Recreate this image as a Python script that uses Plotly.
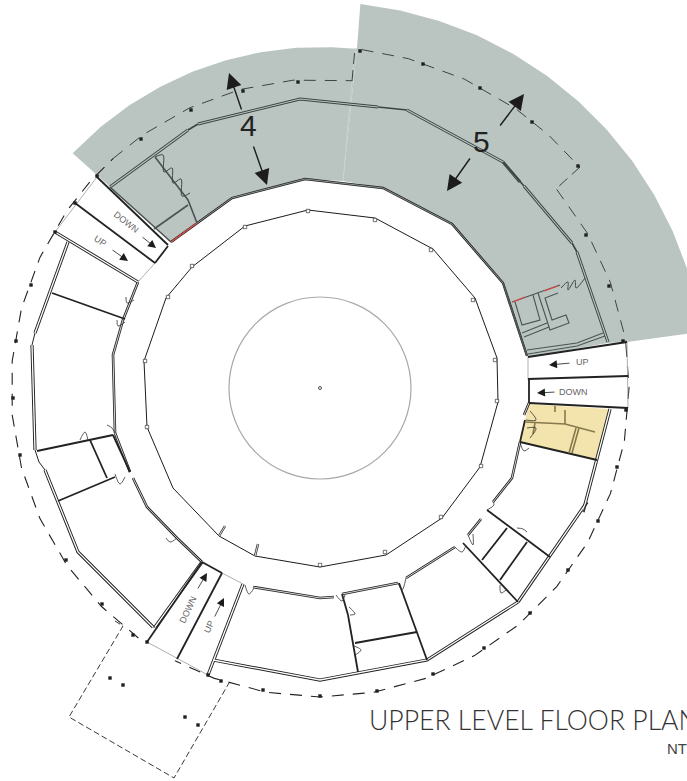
import numpy as np
import plotly.graph_objects as go

# ---------- drawing data (x, y in sheet units) ----------
ZONE_4_ANGLES = [223.5,230,236,242,248,254,260,266,272,276]
ZONE_5_ANGLES = [276,282,288,294,300,306,312,318,324,330,336,342,345]
ZONE_4_RADIUS = 341
ZONE_5_RADIUS = 386
ZONE_4_INNER = [(357,48),(343,181),(305,179),(232,198),(197,223),(171,242),(97,175)]
ZONE_5_INNER = [(700,332),(627,342),(608,343),(528,357),(527,356),(503,283),(452,224),(383,188),(343,181),(357,48)]
ZONE_YELLOW = [(529,404),(609,409),(597,460),(520,442),(525,420)]

INNER_RING = [(245,226),(308,210),(375,218),(433,249),(475,298),(497,358),(498,402),(480,467),(442,518),(386,555),(320,567),(255,556),(219,536),(173,488),(147,427),(144,361),(166,298),(192,267),(245,226)]
INNER_TABS = [(245,227),(308,211),(375,220),(431,250),(473,300),(495,360),(497,401),(481,466),(441,517),(385,552),(320,565),(147,427),(145,361),(168,297),(192,266)]
INNER_STUBS = [[(219,536),(225,526)],[(255,556),(258,544)]]

CORRIDOR_TOP = [(171,242),(197,223),(232,198),(305,179),(383,188),(452,224),(503,283),(527,356)]
CORRIDOR_WALLS = [
    [(529,403),(524,415)],[(520,442),(512,478),(493,502)],[(455,547),(406,578)],[(398,583),(342,594)],
    [(334,597),(320,598),(253,587)],[(202,562),(177,538),(147,507),(133,478)],[(115,433),(113,355),(123,320),(138,282)],
    [(130,472),(115,433)],[(468,535),(481,519)],
]
OUTER_WALLS_GREY = [[(110,187),(188,130)],[(198,124),(300,99),(378,107)],[(407,110),(503,162)],[(503,162),(520,182)],[(524,186),(572,243)],[(577,252),(608,342)]]
OUTER_SOLID_GREY = [[(188,130),(198,124)],[(378,107),(407,110)],[(503,162),(524,186)],[(572,243),(577,252)]]
OUTER_WALLS = [[(68,242),(35,333)],[(32,345),(35,450)],[(45,470),(78,552),(153,627)],[(155,627),(202,562)],[(208,675),(243,584)],
               [(213,660),(320,680),(427,660),(518,602)],[(518,602),(587,502)],[(583,512),(597,460),(610,409)],[(55,232),(138,282)]]
OUTER_JOINTS = [[(35,333),(32,345)],[(35,450),(39,462),(45,470)],[(153,627),(155,627)],[(587,502),(583,512)]]
THICK_LINES = [
    [(97,177),(168,245)],[(75,203),(155,263)],[(168,246),(155,263)],[(528,357),(627,342)],[(528,379),(628,376)],[(529,403),(628,408)],
    [(529,380),(529,403)],[(147,642),(202,562)],[(177,659),(222,573)],[(202,562),(222,573)],[(52,293),(125,319)],[(37,451),(113,435)],
    [(90,440),(107,478)],[(58,501),(115,477)],[(520,442),(597,460)],[(487,510),(550,557)],[(463,543),(518,602)],[(507,528),(482,560)],
    [(527,542),(500,580)],[(399,583),(427,660)],[(348,615),(358,672)],[(355,643),(417,632)],[(342,594),(348,615)],[(113,435),(130,472)],
    [(525,420),(520,442)],
]
GREY_EDGES = [[(55,232),(97,177)],[(138,282),(155,263)],[(627,342),(628,408)],[(528,357),(528,380)],[(147,642),(208,675)],[(222,573),(243,584)]]
SEAM = [(355,48),(343,181)]

ROOM_4 = [[(155,157),(188,200),(197,223)],[(154,229),(188,205)],[(110,187),(171,242)]]
ROOM_5 = [[(512,302),(560,285)],[(515,302),(522,325),(540,320),(533,295)],[(538,293),(550,330),(569,323),(566,315),(552,320),(545,298),(558,293)],
          [(522,333),(547,323)],[(524,337),(549,327)],[(527,350),(577,343),(603,333)],[(528,354),(577,346),(605,336)],[(503,283),(527,356)]]
ROOM_4_DOORS = [(155,157),(163,155),(164,172),(172,168),(173,183),(181,179),(182,196),(190,193)]
ROOM_5_DOORS = [(561,288),(568,282),(568,290),(575,280),(576,288),(585,278)]
YELLOW_LINES = [[(525,422),(565,424),(595,432)],[(565,410),(565,424)],[(579,428),(572,453)],[(576,428),(569,453)],[(555,406),(555,412)],[(535,423),(533,434)]]
RED_LINES = [[(171,242),(197,223)],[(513,302),(525,297)],[(544,291),(558,286)]]

DOORS = [
    [(126,297),(127,303),(134,300)],[(117,320),(118,326),(125,322)],[(107,425),(112,428),(115,433)],[(80,440),(85,432),(88,440)],
    [(115,474),(120,484),(125,477)],[(166,538),(170,542),(177,538)],[(245,585),(249,594),(254,588)],[(336,595),(342,601),(345,595)],
    [(349,607),(355,614),(350,615)],[(354,646),(361,650),(355,655)],[(398,583),(402,590),(406,578)],[(455,547),(462,552),(466,545)],
    [(468,535),(473,545),(473,534)],[(487,510),(494,505),(493,502)],[(517,528),(523,529),(527,532)],[(500,585),(501,593),(506,590)],
    [(520,442),(524,451),(529,448)],[(526,420),(536,420),(530,411)],[(527,428),(536,428),(530,438)],
]

RING_ANGLES_LOWER = [-8,0,10,20,30,40,50,60,70,80,90,100,110,118]
RING_ANGLES_LEFT = [126,135,145,155,165,175,185,195,205,215,222,228]
RING_ANGLES_TOP = [228,235,245,255,265,275,276]
RING_ANGLES_RIGHT = [320,330,340,350,352]
RING_ANGLES_HIGH = [277,285,295,305,312,319.6]
RING_RADIUS = 309
HIGH_RADIUS = 341
CENTRE = (320,388)
CIRCLE_RADIUS = 91

DASH_LINKS = [[(352,81),(355,48)],[(580,167),(557,188)]]
ANNEX = [(115,621),(123,626),(69,717),(174,778),(229,683)]
COLUMNS = [(31,285),(16,341),(13,398),(20,455),(66,560),(102,604),(133,635),(221,681),(263,690),(320,696),(377,691),(433,674),(484,648),(530,613),(568,570),(598,521),(617,467),(626,410),
           (623,341),(609,286),(586,235),(578,166),(532,122),(480,88),(423,64),(360,51),(298,82),(243,91),(191,110),(141,139),(97,176),(75,203),(55,232),(147,642),(208,675),(110,678),(123,685),(185,717),(198,725)]

ARROWS = [((242,111),(229,73),1.4),((253,145),(267,185),1.4),((499,127),(524,94),1.4),((471,157),(447,191),1.4),
          ((571,363),(549,365),0.8),((556,392),(537,393),0.8),((141,236),(156,248),0.8),((111,249),(128,261),0.8),
          ((197,590),(207,573),0.8),((214,618),(224,598),0.8)]
STAIR_LABELS = [("UP",582,362,0),("DOWN",573,392,0),("DOWN",126,222,38),("UP",100,241,35),("DOWN",188,610,-65),("UP",209,627,-65)]
BIG_LABELS = [("4",248,125),("5",481,141)]

TITLE = "UPPER LEVEL FLOOR PLAN"
NOTE = "NTS"

# ---------- build ----------
fig = go.Figure()

def xy(paths):
    xs, ys = [], []
    for p in paths:
        xs += [q[0] for q in p] + [None]
        ys += [q[1] for q in p] + [None]
    return xs, ys

def lines(paths, color, width, dash=None, shape="linear"):
    x, y = xy(paths)
    fig.add_trace(go.Scatter(x=x, y=y, mode="lines", line=dict(color=color, width=width, dash=dash, shape=shape), hoverinfo="skip", connectgaps=False))

def poly(points, color):
    fig.add_trace(go.Scatter(x=[p[0] for p in points]+[points[0][0]], y=[p[1] for p in points]+[points[0][1]], mode="lines",
                             fill="toself", fillcolor=color, line=dict(width=0, color=color), hoverinfo="skip"))

def arc(angles, r):
    a = np.radians(angles)
    return list(zip((CENTRE[0]+r*np.cos(a)).tolist(), (CENTRE[1]+r*np.sin(a)).tolist()))

def double(paths, outer, inner, w=3.0, iw=1.0):
    lines(paths, outer, w)
    lines(paths, inner, iw)

GREY = "#BAC5C1"
poly(arc(ZONE_4_ANGLES, ZONE_4_RADIUS) + ZONE_4_INNER, GREY)
poly(arc(ZONE_5_ANGLES, ZONE_5_RADIUS) + ZONE_5_INNER, GREY)
poly(ZONE_YELLOW, "#F3E4AE")
lines([SEAM], "#CBD3D0", 0.8)

dash = "12px,9px"
lines([arc(RING_ANGLES_LOWER, RING_RADIUS)], "#222222", 1.1, dash)
lines([arc(RING_ANGLES_LEFT, RING_RADIUS)], "#222222", 1.1, dash)
lines([arc(RING_ANGLES_TOP, RING_RADIUS)], "#3C4442", 1.0, dash)
lines([arc(RING_ANGLES_RIGHT, RING_RADIUS)], "#3C4442", 1.0, dash)
lines([arc(RING_ANGLES_HIGH, HIGH_RADIUS)], "#3C4442", 1.0, dash)
lines(DASH_LINKS, "#3C4442", 1.0, "11px,6px")
lines([ANNEX], "#222222", 0.9, "6px,3px")

fig.add_shape(type="circle", xref="x", yref="y", x0=CENTRE[0]-CIRCLE_RADIUS, x1=CENTRE[0]+CIRCLE_RADIUS,
              y0=CENTRE[1]-CIRCLE_RADIUS, y1=CENTRE[1]+CIRCLE_RADIUS, line=dict(color="#A8A8A8", width=1.2))
fig.add_trace(go.Scatter(x=[CENTRE[0]], y=[CENTRE[1]], mode="markers", marker=dict(symbol="circle-open", size=3, color="#222222", line=dict(width=0.8)), hoverinfo="skip"))

lines([INNER_RING], "#1C1C1C", 1.0)
lines(INNER_STUBS, "#333333", 2.4)
lines(INNER_STUBS, "#FFFFFF", 0.8)
fig.add_trace(go.Scatter(x=[p[0] for p in INNER_TABS], y=[p[1] for p in INNER_TABS], mode="markers",
                         marker=dict(symbol="square", size=3.4, color="#FFFFFF", line=dict(color="#333333", width=0.7)), hoverinfo="skip"))

double([CORRIDOR_TOP], "#222222", GREY, 2.4, 0.7)
double(OUTER_WALLS_GREY, "#3B4341", GREY, 3.0, 1.1)
lines(OUTER_SOLID_GREY, "#3B4341", 1.6)
double(CORRIDOR_WALLS, "#222222", "#FFFFFF", 2.6, 0.8)
double(OUTER_WALLS, "#222222", "#FFFFFF", 3.2, 1.3)
lines(OUTER_JOINTS, "#222222", 1.0)
lines(GREY_EDGES, "#AFAFAF", 1.0)
lines(THICK_LINES, "#222222", 1.8)
lines(ROOM_4, "#4A5351", 1.6)
lines(ROOM_5, "#4A5351", 1.1)
lines([ROOM_4_DOORS, ROOM_5_DOORS], "#3F4745", 1.0, None, "spline")
lines(YELLOW_LINES, "#867A4C", 1.6)
lines(RED_LINES, "#E2453F", 1.3)
lines(DOORS, "#333333", 0.8, None, "spline")

fig.add_trace(go.Scatter(x=[p[0] for p in COLUMNS], y=[p[1] for p in COLUMNS], mode="markers",
                         marker=dict(symbol="square", size=3.4, color="#1F1F1F"), hoverinfo="skip"))

ann = []
for start, end, w in ARROWS:
    ann.append(dict(x=end[0], y=end[1], ax=start[0], ay=start[1], xref="x", yref="y", axref="x", ayref="y", text="",
                    showarrow=True, arrowhead=2, arrowsize=2.2 if w > 1 else 2.0, arrowwidth=w, arrowcolor="#1C1C1C", standoff=0))
for t, x, y, r in STAIR_LABELS:
    ann.append(dict(x=x, y=y, xref="x", yref="y", text=t, showarrow=False, textangle=r,
                    font=dict(family="Liberation Sans Narrow, Liberation Sans", size=9, color="#666666")))
for t, x, y in BIG_LABELS:
    ann.append(dict(x=x, y=y, xref="x", yref="y", text=t, showarrow=False, font=dict(family="Liberation Sans, Arial", size=30, color="#222222")))
ann.append(dict(x=367, y=720, xref="x", yref="y", text=TITLE, showarrow=False, xanchor="left",
                font=dict(family="Lato Light, Lato", size=26.6, color="#333333")))
ann.append(dict(x=665, y=748, xref="x", yref="y", text=NOTE, showarrow=False, xanchor="left",
                font=dict(family="Liberation Sans", size=15, color="#444444")))

fig.update_layout(
    width=687, height=781, margin=dict(l=0, r=0, t=0, b=0), showlegend=False,
    paper_bgcolor="#FFFFFF", plot_bgcolor="#FFFFFF", annotations=ann,
    xaxis=dict(range=[0,687], visible=False, fixedrange=True),
    yaxis=dict(range=[781,0], visible=False, fixedrange=True),
)
fig.write_html("out.html", config={"displayModeBar": False}, post_script="document.body.style.margin='0';document.body.style.overflow='hidden';")
